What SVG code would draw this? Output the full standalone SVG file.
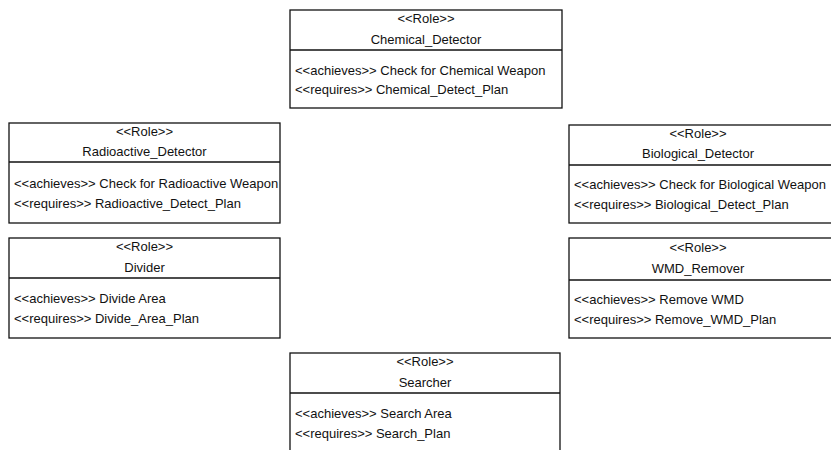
<svg xmlns="http://www.w3.org/2000/svg" width="831" height="450" viewBox="0 0 831 450">
<style>
.box{fill:#fff;stroke:#111;stroke-width:1.3}
.ln{stroke:#111;stroke-width:1.3}
text{font-family:"Liberation Sans",Arial,sans-serif;font-size:13px;fill:#111}
.c{text-anchor:middle}
</style>
<rect width="831" height="450" fill="#fff"/>
<g id="chemical_detector">
<rect class="box" x="290" y="10" width="272" height="98"/>
<line class="ln" x1="290" y1="50" x2="562" y2="50"/>
<text class="c" x="426" y="23">&lt;&lt;Role&gt;&gt;</text>
<text class="c" x="426" y="44">Chemical_Detector</text>
<text x="295" y="75">&lt;&lt;achieves&gt;&gt; Check for Chemical Weapon</text>
<text x="295" y="94">&lt;&lt;requires&gt;&gt; Chemical_Detect_Plan</text>
</g>
<g id="radioactive_detector">
<rect class="box" x="9" y="123" width="271" height="100"/>
<line class="ln" x1="9" y1="162" x2="280" y2="162"/>
<text class="c" x="144.5" y="136">&lt;&lt;Role&gt;&gt;</text>
<text class="c" x="144.5" y="156">Radioactive_Detector</text>
<text x="14" y="188">&lt;&lt;achieves&gt;&gt; Check for Radioactive Weapon</text>
<text x="14" y="208">&lt;&lt;requires&gt;&gt; Radioactive_Detect_Plan</text>
</g>
<g id="biological_detector">
<rect class="box" x="569" y="125" width="271" height="98"/>
<line class="ln" x1="569" y1="165" x2="840" y2="165"/>
<text class="c" x="698" y="138">&lt;&lt;Role&gt;&gt;</text>
<text class="c" x="698" y="158">Biological_Detector</text>
<text x="574" y="189">&lt;&lt;achieves&gt;&gt; Check for Biological Weapon</text>
<text x="574" y="209">&lt;&lt;requires&gt;&gt; Biological_Detect_Plan</text>
</g>
<g id="divider">
<rect class="box" x="9" y="238" width="271" height="100"/>
<line class="ln" x1="9" y1="278" x2="280" y2="278"/>
<text class="c" x="144.5" y="251">&lt;&lt;Role&gt;&gt;</text>
<text class="c" x="144.5" y="272">Divider</text>
<text x="14" y="303">&lt;&lt;achieves&gt;&gt; Divide Area</text>
<text x="14" y="323">&lt;&lt;requires&gt;&gt; Divide_Area_Plan</text>
</g>
<g id="wmd_remover">
<rect class="box" x="569" y="238" width="271" height="100"/>
<line class="ln" x1="569" y1="280" x2="840" y2="280"/>
<text class="c" x="698" y="252">&lt;&lt;Role&gt;&gt;</text>
<text class="c" x="698" y="273">WMD_Remover</text>
<text x="574" y="304">&lt;&lt;achieves&gt;&gt; Remove WMD</text>
<text x="574" y="324">&lt;&lt;requires&gt;&gt; Remove_WMD_Plan</text>
</g>
<g id="searcher">
<rect class="box" x="290" y="353" width="270" height="100"/>
<line class="ln" x1="290" y1="393" x2="560" y2="393"/>
<text class="c" x="425" y="366">&lt;&lt;Role&gt;&gt;</text>
<text class="c" x="425" y="387">Searcher</text>
<text x="295" y="418">&lt;&lt;achieves&gt;&gt; Search Area</text>
<text x="295" y="438">&lt;&lt;requires&gt;&gt; Search_Plan</text>
</g>
<g id="connectors"></g>
</svg>
